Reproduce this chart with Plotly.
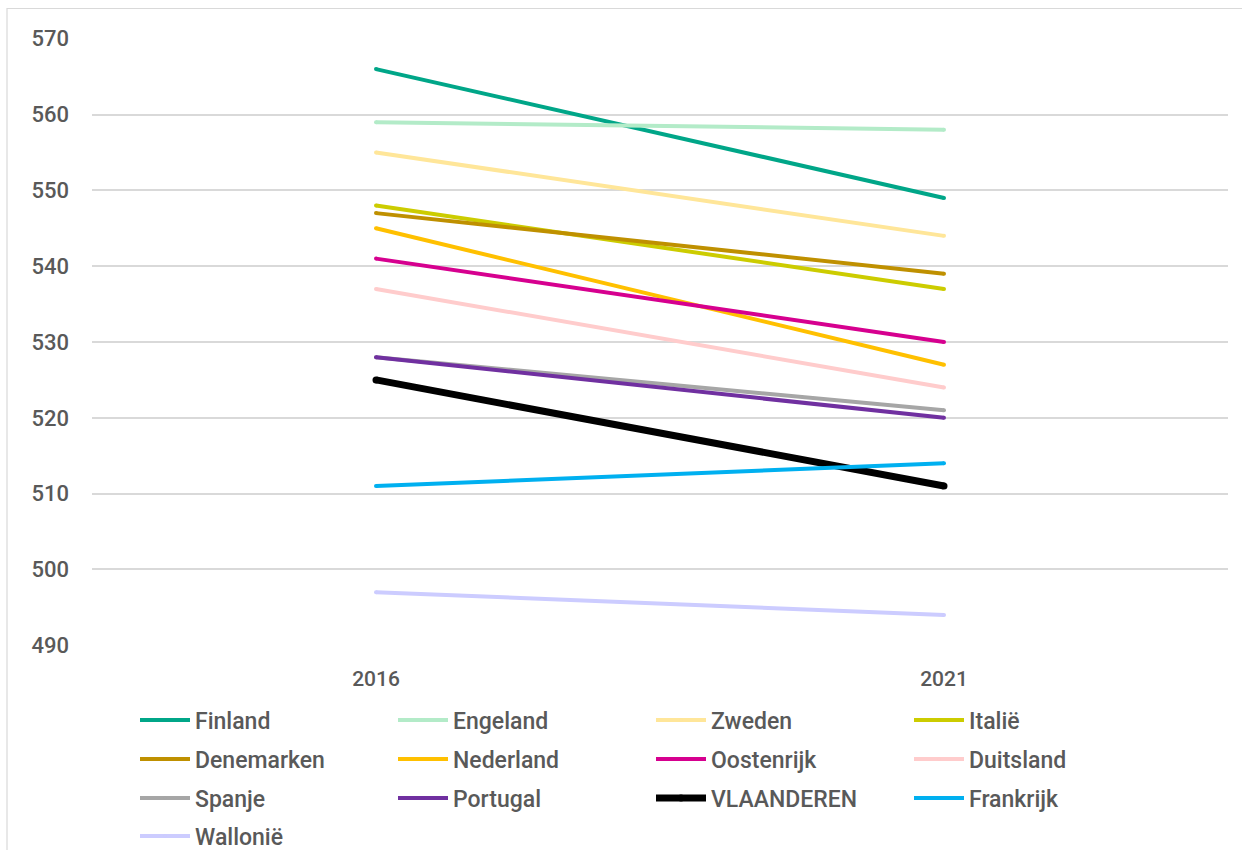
import plotly.graph_objects as go

# Survey years on the category axis
years = ["2016", "2021"]

# Mean scores per country / region
finland = [566, 549]
engeland = [559, 558]
zweden = [555, 544]
italie = [548, 537]
denemarken = [547, 539]
nederland = [545, 527]
oostenrijk = [541, 530]
duitsland = [537, 524]
spanje = [528, 521]
portugal = [528, 520]
vlaanderen = [525, 511]
frankrijk = [511, 514]
wallonie = [497, 494]

y_ticks = [490, 500, 510, 520, 530, 540, 550, 560, 570]

series = [
    ("Finland", finland, "#00A688", 4, "legend"),
    ("Engeland", engeland, "#B3EBC8", 4, "legend"),
    ("Zweden", zweden, "#FFE699", 4, "legend"),
    ("Italië", italie, "#CCCC00", 4, "legend"),
    ("Denemarken", denemarken, "#BF9000", 4, "legend2"),
    ("Nederland", nederland, "#FFC000", 4, "legend2"),
    ("Oostenrijk", oostenrijk, "#D6008F", 4, "legend2"),
    ("Duitsland", duitsland, "#FFCCCC", 4, "legend2"),
    ("Spanje", spanje, "#A6A6A6", 4, "legend3"),
    ("Portugal", portugal, "#7030A0", 4, "legend3"),
    ("VLAANDEREN", vlaanderen, "#000000", 7, "legend3"),
    ("Frankrijk", frankrijk, "#00B0F0", 4, "legend3"),
    ("Wallonië", wallonie, "#CCCCFF", 4, "legend4"),
]

FONT = "Roboto"
TEXT = "#595959"

fig = go.Figure()
for name, vals, color, width, leg in series:
    # endpoint dots of the line's width give the strokes rounded ends
    fig.add_trace(go.Scatter(
        x=years, y=vals, name=name, mode="lines+markers",
        line=dict(color=color, width=width),
        marker=dict(color=color, size=width, line=dict(width=0)),
        legend=leg,
    ))

W, H = 1242, 850
ML, MR, MT, MB = 92, 14, 38, 204
plot_h = H - MT - MB


def row_y(px):
    return 1 - (px - MT) / plot_h


leg_common = dict(
    orientation="h", xanchor="left", yanchor="middle",
    x=(135 - ML) / (W - ML - MR),
    entrywidth=193, entrywidthmode="pixels",
    itemwidth=50,
    font=dict(family=FONT, size=23, color=TEXT, weight=500),
    bgcolor="rgba(0,0,0,0)",
    traceorder="normal",
)

fig.update_layout(
    width=W, height=H,
    margin=dict(l=ML, r=MR, t=MT, b=MB, autoexpand=False),
    paper_bgcolor="white", plot_bgcolor="white",
    font=dict(family=FONT, color=TEXT),
    legend=dict(leg_common, y=row_y(720)),
    legend2=dict(leg_common, y=row_y(759)),
    legend3=dict(leg_common, y=row_y(798)),
    legend4=dict(leg_common, y=row_y(836)),
    xaxis=dict(
        type="category", range=[-0.5, 1.5],
        showgrid=False, zeroline=False, showline=False,
        ticks="", ticklabelstandoff=18,
        tickfont=dict(family=FONT, size=21, color=TEXT, weight=500),
    ),
    yaxis=dict(
        range=[489.9, 570.1], tickvals=y_ticks,
        showgrid=True, gridcolor="#D9D9D9", gridwidth=1.6,
        zeroline=False, showline=False, ticks="",
        ticklabelstandoff=22,
        tickfont=dict(family=FONT, size=22, color=TEXT, weight=500),
    ),
    shapes=[dict(
        type="rect", xref="paper", yref="paper",
        x0=(7 - ML) / (W - ML - MR), x1=1.05,
        y0=-0.4, y1=1 + (MT - 8.5) / plot_h,
        line=dict(color="#D9D9D9", width=1.2),
        fillcolor="rgba(0,0,0,0)", layer="below",
    )],
)

fig.write_html("out.html")
